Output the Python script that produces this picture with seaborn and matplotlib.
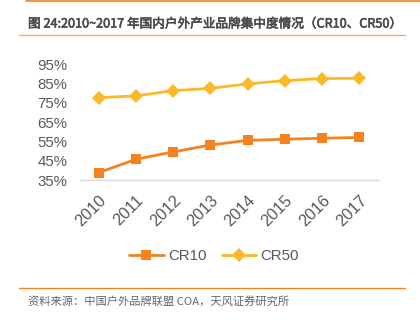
import matplotlib
matplotlib.use("Agg")
import matplotlib.pyplot as plt
import matplotlib.patheffects as pe
import seaborn as sns
import pandas as pd
from matplotlib.lines import Line2D

years = [2010, 2011, 2012, 2013, 2014, 2015, 2016, 2017]
cr10 = [38.8, 45.7, 49.5, 53.1, 55.5, 56.1, 56.6, 57.0]
cr50 = [77.6, 78.5, 81.2, 82.4, 84.7, 86.4, 87.5, 87.6]
series_names = ["CR10", "CR50"]
y_ticks = [35, 45, 55, 65, 75, 85, 95]

title_text = "图 24:2010~2017 年国内户外产业品牌集中度情况（CR10、CR50）"
source_text = "资料来源：中国户外品牌联盟 COA，天风证券研究所"

sns.set_theme(style="white")
plt.rcParams["font.family"] = ["Liberation Sans", "Noto Sans CJK SC", "DejaVu Sans"]

df = pd.DataFrame({
    "year": years * 2,
    "value": cr10 + cr50,
    "series": [series_names[0]] * len(years) + [series_names[1]] * len(years),
})

palette = {"CR10": "#F5821F", "CR50": "#FBB927"}
markers = {"CR10": "s", "CR50": "D"}

fig = plt.figure(figsize=(4.2, 3.27), dpi=100)
ax = fig.add_axes([80 / 420, 1 - 180 / 327, 298 / 420, 116 / 327])

sns.lineplot(data=df, x="year", y="value", hue="series", style="series",
             palette=palette, markers=markers, dashes=False, linewidth=2.0,
             markersize=7, markeredgewidth=0, ax=ax, legend=False, clip_on=False)

ax.set_xlim(2009.5, 2017.5)
ax.set_ylim(35, 95)
ax.set_yticks(y_ticks)
ax.set_yticklabels([f"{t}%" for t in y_ticks])
ax.set_xticks(years)
ax.set_xticklabels([str(y) for y in years], rotation=45, ha="right", va="top",
                   rotation_mode="anchor")
ax.set_xlabel("")
ax.set_ylabel("")
ax.tick_params(axis="both", length=0, colors="#595959")
ax.tick_params(axis="y", pad=9, labelsize=10.8)
ax.tick_params(axis="x", pad=9, labelsize=11.8)
for side in ["left", "right", "top"]:
    ax.spines[side].set_visible(False)
ax.spines["bottom"].set_color("#D9D9D9")
ax.spines["bottom"].set_linewidth(1.0)
ax.grid(False)

handles = [Line2D([], [], color=palette[n], marker=markers[n], markersize=7,
                  markeredgewidth=0, linewidth=2.0) for n in series_names]
fig.legend(handles, series_names, loc="center", bbox_to_anchor=(214 / 420, 1 - 256 / 327),
           ncol=2, frameon=False, fontsize=10.8, labelcolor="#595959",
           handlelength=2.3, handletextpad=0.3, columnspacing=1.0)

# header rules and title
fig.add_artist(Line2D([26 / 420, 1.0], [1 - 1 / 327, 1 - 1 / 327], color="#F5821F", linewidth=1.2))
fig.text(28 / 420, 1 - 24 / 327, title_text, fontsize=9.1, color="#4A4A4A",
         va="center", ha="left", family=["Noto Sans CJK SC", "DejaVu Sans"],
         path_effects=[pe.withStroke(linewidth=0.45, foreground="#4A4A4A")])
fig.add_artist(Line2D([19 / 420, 405 / 420], [1 - 35 / 327, 1 - 35 / 327], color="#F8A860", linewidth=1.0))

# footer rule and source
fig.add_artist(Line2D([19 / 420, 405 / 420], [1 - 288 / 327, 1 - 288 / 327], color="#F5821F", linewidth=1.0))
fig.text(28 / 420, 1 - 302 / 327, source_text, fontsize=8.1, color="#666666",
         va="center", ha="left", family=["Noto Sans CJK SC", "DejaVu Sans"])

fig.savefig("out.png", dpi=100)
